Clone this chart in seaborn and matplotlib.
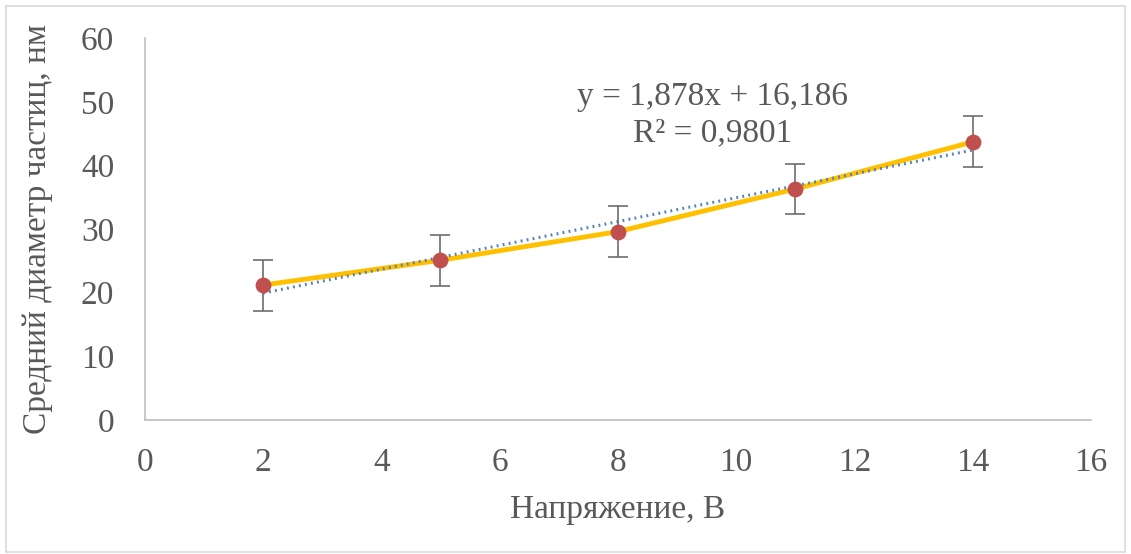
"""
Average particle diameter vs. voltage, with linear trendline.
"""

import matplotlib

matplotlib.use("Agg")

import matplotlib.pyplot as plt
import numpy as np
import pandas as pd
import seaborn as sns
from matplotlib.patches import Rectangle

# Data
voltage = [2, 5, 8, 11, 14]
diameter = [21.2, 25.1, 29.6, 36.3, 43.7]
error = [4.0, 4.0, 4.0, 4.0, 4.0]
x_ticks = [0, 2, 4, 6, 8, 10, 12, 14, 16]
y_ticks = [0, 10, 20, 30, 40, 50, 60]
x_label = "Напряжение, В"
y_label = "Средний диаметр частиц, нм"
equation_text = "y = 1,878x + 16,186\nR² = 0,9801"

TEXT = "#595959"
FS = 24

sns.set_theme(style="white")
plt.rcParams["font.family"] = ["Liberation Serif", "DejaVu Serif"]

df = pd.DataFrame({"voltage": voltage, "diameter": diameter, "error": error})

fig = plt.figure(figsize=(11.31, 5.54), dpi=100)
ax = fig.add_axes([0.128, 0.242, 0.8366, 0.689])

# main series
sns.lineplot(data=df, x="voltage", y="diameter", color="#FFC000",
             linewidth=3.5, ax=ax, zorder=2)

# linear trendline from the data
slope, intercept = np.polyfit(df["voltage"], df["diameter"], 1)
trend = pd.DataFrame({"voltage": [min(voltage), max(voltage)]})
trend["diameter"] = slope * trend["voltage"] + intercept
sns.lineplot(data=trend, x="voltage", y="diameter", color="#4F81BD",
             linewidth=2.2, linestyle=(0, (0.6, 1.4)), ax=ax, zorder=3)

ax.errorbar(df["voltage"], df["diameter"], yerr=df["error"], fmt="none",
            ecolor="#6d6d6d", elinewidth=1.2, capsize=7, capthick=1.2, zorder=4)
sns.scatterplot(data=df, x="voltage", y="diameter", color="#C0504D",
                s=130, edgecolor="#C0504D", linewidth=0, ax=ax, zorder=5)

ax.set_xlim(0, 16)
ax.set_ylim(0, 60)
ax.set_xticks(x_ticks)
ax.set_yticks(y_ticks)
ax.tick_params(axis="both", length=0, labelsize=FS, labelcolor=TEXT)
ax.tick_params(axis="x", pad=20)
ax.tick_params(axis="y", pad=22)
ax.set_xlabel(x_label, fontsize=FS, color=TEXT, labelpad=12)
ax.set_ylabel(y_label, fontsize=FS, color=TEXT, labelpad=20)

for side in ["top", "right"]:
    ax.spines[side].set_visible(False)
for side in ["left", "bottom"]:
    ax.spines[side].set_color("#BFBFBF")
    ax.spines[side].set_linewidth(1.2)

ax.text(9.6, 48.0, equation_text, fontsize=FS, color=TEXT,
        ha="center", va="center", linespacing=1.25)

# chart-area border
fig.patches.append(Rectangle((0.005, 0.003), 0.99, 0.987,
                             transform=fig.transFigure, fill=False,
                             edgecolor="#D9D9D9", linewidth=1.2))

fig.savefig("out.png", dpi=100)
plt.close(fig)
